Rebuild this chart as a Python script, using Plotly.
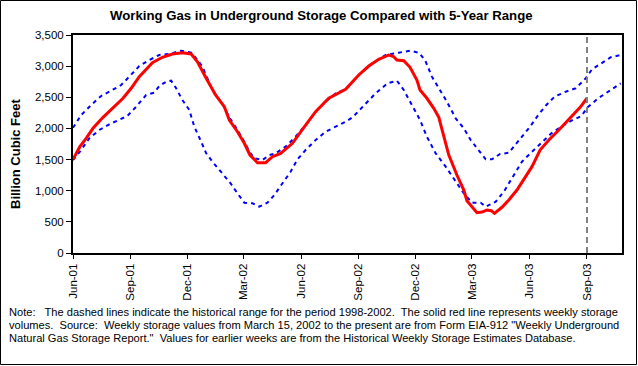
import plotly.graph_objects as go

# ---------------- data ----------------
storage_dates = [
    "2001-06-01", "2001-06-12", "2001-06-22", "2001-07-03", "2001-07-19", "2001-08-04",
    "2001-08-20", "2001-09-02", "2001-09-15", "2001-10-06", "2001-10-22", "2001-11-07",
    "2001-11-23", "2001-12-07", "2001-12-17", "2001-12-31", "2002-01-15", "2002-01-29",
    "2002-02-06", "2002-02-19", "2002-03-02", "2002-03-11", "2002-03-23", "2002-04-05",
    "2002-04-16", "2002-04-29", "2002-05-18", "2002-06-03", "2002-06-24", "2002-07-15",
    "2002-08-06", "2002-08-11", "2002-09-01", "2002-09-17", "2002-10-03", "2002-10-19",
    "2002-10-27", "2002-11-01", "2002-11-12", "2002-11-22", "2002-12-03", "2002-12-08",
    "2002-12-19", "2002-12-30", "2003-01-07", "2003-01-15", "2003-01-23", "2003-02-05",
    "2003-02-16", "2003-02-21", "2003-03-01", "2003-03-09", "2003-03-17", "2003-03-25",
    "2003-04-01", "2003-04-06", "2003-04-18", "2003-04-29", "2003-05-12", "2003-05-25",
    "2003-06-05", "2003-06-18", "2003-07-02", "2003-07-18", "2003-07-29", "2003-08-11",
    "2003-08-21", "2003-09-01",
]
storage_values = [
    1504, 1707, 1841, 2002, 2178, 2323,
    2484, 2644, 2831, 3055, 3142, 3195,
    3216, 3195, 3071, 2805, 2537, 2349,
    2135, 1947, 1761, 1573, 1450, 1450,
    1546, 1600, 1761, 1986, 2269, 2484,
    2600, 2628, 2858, 3002, 3110, 3179,
    3152, 3099, 3087, 2981, 2778, 2617,
    2484, 2323, 2178, 1867, 1573, 1252,
    1011, 840, 743, 647, 658, 690,
    679, 637, 734, 851, 1011, 1225,
    1386, 1654, 1814, 1975, 2092, 2243,
    2339, 2484,
]

max_dates = [
    "2001-06-01", "2001-06-14", "2001-06-30", "2001-07-16", "2001-08-01", "2001-08-17",
    "2001-08-30", "2001-09-15", "2001-10-01", "2001-10-17", "2001-11-02", "2001-11-21",
    "2001-12-07", "2001-12-15", "2001-12-25", "2002-01-10", "2002-01-26", "2002-02-06",
    "2002-02-19", "2002-03-02", "2002-03-10", "2002-03-18", "2002-03-31", "2002-04-11",
    "2002-04-21", "2002-05-07", "2002-05-23", "2002-06-08", "2002-06-24", "2002-07-10",
    "2002-07-26", "2002-08-11", "2002-08-27", "2002-09-01", "2002-09-23", "2002-10-14",
    "2002-11-04", "2002-11-22", "2002-12-06", "2002-12-16", "2002-12-27", "2003-01-07",
    "2003-01-20", "2003-02-03", "2003-02-16", "2003-02-27", "2003-03-09", "2003-03-23",
    "2003-04-02", "2003-04-15", "2003-04-29", "2003-05-09", "2003-05-20", "2003-06-02",
    "2003-06-15", "2003-06-28", "2003-07-11", "2003-07-29", "2003-08-14", "2003-08-30",
    "2003-09-09", "2003-09-25", "2003-10-09", "2003-10-25",
]
max_values = [
    2010, 2215, 2376, 2521, 2606, 2697,
    2831, 3002, 3099, 3179, 3195, 3248,
    3216, 3126, 2991, 2617, 2392, 2178,
    1975, 1787, 1626, 1520, 1493, 1573,
    1600, 1707, 1867, 2055, 2269, 2429,
    2564, 2628, 2805, 2858, 3045, 3179,
    3216, 3248, 3216, 3099, 2831, 2644,
    2429, 2162, 2002, 1814, 1681, 1504,
    1504, 1589, 1610, 1734, 1867, 2028,
    2215, 2376, 2509, 2590, 2644, 2805,
    2949, 3055, 3142, 3179,
]

min_dates = [
    "2001-06-01", "2001-06-12", "2001-06-27", "2001-07-13", "2001-07-29", "2001-08-14",
    "2001-08-27", "2001-09-10", "2001-09-26", "2001-10-09", "2001-10-17", "2001-10-28",
    "2001-11-05", "2001-11-13", "2001-11-23", "2001-12-04", "2001-12-12", "2001-12-23",
    "2001-12-31", "2002-01-10", "2002-01-26", "2002-02-08", "2002-02-19", "2002-03-02",
    "2002-03-15", "2002-03-26", "2002-04-08", "2002-04-19", "2002-05-02", "2002-05-15",
    "2002-05-26", "2002-06-08", "2002-06-24", "2002-07-10", "2002-07-26", "2002-08-11",
    "2002-08-22", "2002-09-07", "2002-09-28", "2002-10-17", "2002-11-01", "2002-11-12",
    "2002-11-25", "2002-12-08", "2002-12-19", "2003-01-02", "2003-01-18", "2003-02-03",
    "2003-02-16", "2003-03-01", "2003-03-15", "2003-03-23", "2003-04-08", "2003-04-21",
    "2003-05-04", "2003-05-20", "2003-06-05", "2003-06-21", "2003-07-06", "2003-07-22",
    "2003-08-07", "2003-08-23", "2003-09-03", "2003-09-19", "2003-10-09", "2003-10-25",
]
min_values = [
    1493, 1626, 1841, 1975, 2066, 2146,
    2200, 2349, 2537, 2574, 2681, 2750,
    2766, 2644, 2456, 2296, 2028, 1787,
    1600, 1466, 1280, 1119, 958, 808,
    798, 743, 808, 931, 1119, 1305,
    1504, 1654, 1814, 1947, 2028, 2108,
    2178, 2349, 2564, 2724, 2766, 2617,
    2376, 2135, 1867, 1600, 1386, 1145,
    958, 808, 808, 743, 824, 984,
    1199, 1466, 1626, 1787, 1921, 2028,
    2124, 2200, 2349, 2484, 2617, 2724,
]

tick_dates = ["2001-06-01", "2001-09-01", "2001-12-01", "2002-03-01", "2002-06-01",
              "2002-09-01", "2002-12-01", "2003-03-01", "2003-06-01", "2003-09-01"]
tick_labels = ["Jun-01", "Sep-01", "Dec-01", "Mar-02", "Jun-02",
               "Sep-02", "Dec-02", "Mar-03", "Jun-03", "Sep-03"]
current_week = "2003-09-01"
x_start, x_end = "2001-06-01", "2003-10-27"

title_text = "Working Gas in Underground Storage Compared with 5-Year Range"
y_title = "Billion Cubic Feet"
note_lines = [
    "Note:   The dashed lines indicate the historical range for the period 1998-2002.  The solid red line represents weekly storage",
    "volumes.  Source:  Weekly storage values from March 15, 2002 to the present are from Form EIA-912 \"Weekly Underground",
    "Natural Gas Storage Report.\"  Values for earlier weeks are from the Historical Weekly Storage Estimates Database.",
]

# ---------------- figure ----------------
FONT = "Arial, 'Liberation Sans', sans-serif"
fig = go.Figure()
fig.add_trace(go.Scatter(x=max_dates, y=max_values, mode="lines",
                         line=dict(color="#0000FF", width=2, dash="4px,4px"),
                         name="5-yr max", hoverinfo="x+y"))
fig.add_trace(go.Scatter(x=min_dates, y=min_values, mode="lines",
                         line=dict(color="#0000FF", width=2, dash="4px,4px"),
                         name="5-yr min", hoverinfo="x+y"))
fig.add_trace(go.Scatter(x=storage_dates, y=storage_values, mode="lines",
                         line=dict(color="#FF0000", width=3),
                         name="Working gas", hoverinfo="x+y"))

L, R, T, B = 73, 16, 35, 113
W, H = 638, 366
pw, ph = W - L - R, H - T - B

def px_x(p):
    return (p - L) / pw

def px_y(p):
    return (H - B - p) / ph

fig.add_shape(type="line", xref="x", yref="paper", x0=current_week, x1=current_week,
              y0=0, y1=1, line=dict(color="#808080", width=2, dash="6px,4px"))
fig.add_shape(type="rect", xref="paper", yref="paper",
              x0=px_x(0.5), x1=px_x(636.5), y0=px_y(364.5), y1=px_y(0.5),
              line=dict(color="black", width=1), layer="below")

fig.add_annotation(text="<b>" + title_text + "</b>", xref="paper", yref="paper",
                   x=px_x(321), y=px_y(15), xanchor="center", yanchor="middle",
                   showarrow=False, font=dict(family=FONT, size=13.2, color="black"))
fig.add_annotation(text="<b>" + y_title + "</b>", xref="paper", yref="paper",
                   x=px_x(15), y=px_y(154), xanchor="center", yanchor="middle",
                   textangle=-90, showarrow=False,
                   font=dict(family=FONT, size=13, color="black"))
for line, yc in zip(note_lines, [311.7, 325.0, 338.3]):
    fig.add_annotation(text=line, xref="paper", yref="paper",
                       x=px_x(7), y=px_y(yc), xanchor="left", yanchor="middle",
                       showarrow=False, align="left",
                       font=dict(family=FONT, size=11.1, color="black"))

fig.update_layout(
    width=W, height=H,
    margin=dict(l=L, r=R, t=T, b=B, pad=0),
    paper_bgcolor="white", plot_bgcolor="white",
    showlegend=False,
    font=dict(family=FONT, size=11.5, color="black"),
    xaxis=dict(type="date", range=[x_start, x_end], tickmode="array",
               tickvals=tick_dates, ticktext=tick_labels, tickangle=-90,
               ticks="outside", ticklen=4, tickwidth=1, tickcolor="black",
               showline=True, linecolor="black", linewidth=2, mirror=True,
               showgrid=False, zeroline=False, fixedrange=True),
    yaxis=dict(range=[0, 3500], dtick=500, tickformat=",d",
               ticks="outside", ticklen=5, tickwidth=1, tickcolor="black",
               showline=True, linecolor="black", linewidth=2, mirror=True,
               showgrid=False, zeroline=False, fixedrange=True),
)

fig.write_html(
    "out.html",
    config={"displayModeBar": False},
    post_script="document.body.style.margin='0';document.body.style.padding='0';"
                "document.body.style.overflow='hidden';",
)
